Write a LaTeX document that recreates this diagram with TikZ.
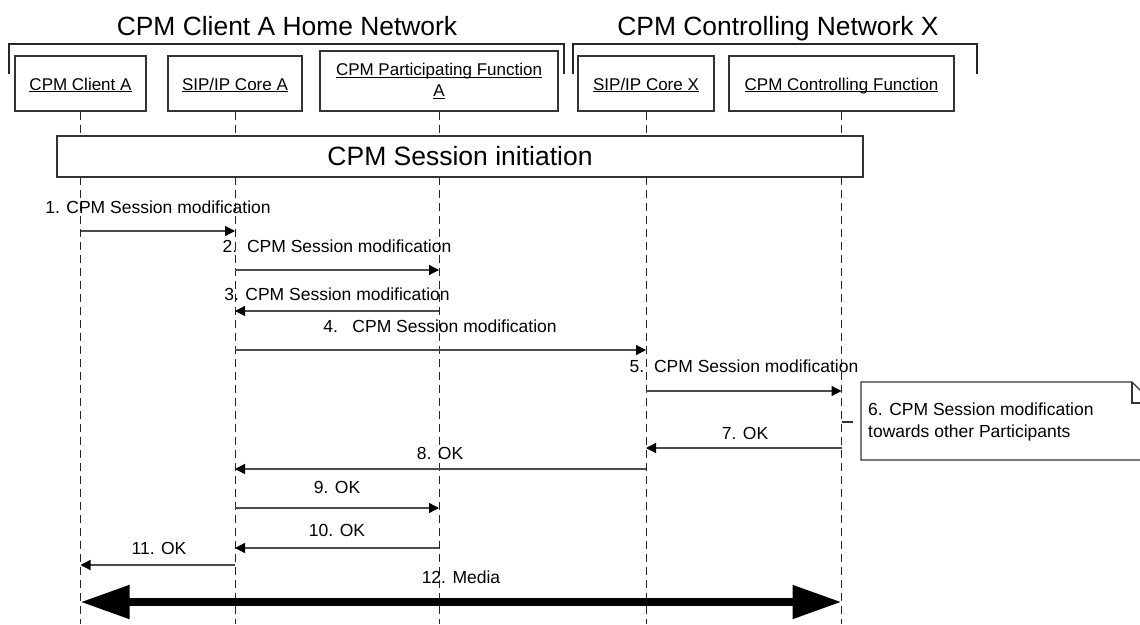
\documentclass[tikz,border=0pt]{standalone}
\usepackage{fontspec}
\setmainfont{Liberation Sans}
\usetikzlibrary{arrows.meta}
\newcommand\myul[1]{\setbox0\hbox{#1}\rlap{\rule[-2.2pt]{\wd0}{0.9pt}}\box0}
\tikzset{
  box/.style={draw=black!80, line width=1.3pt, fill=white, inner sep=0pt, font=\fontsize{17}{20}\selectfont, align=center},
  onel/.style={text height=13pt, text depth=0pt},
  lifeline/.style={draw=black!85, line width=1pt, dash pattern=on 8pt off 5pt},
  msg/.style={draw=black!70, line width=1.3pt, -{Triangle[length=10pt,width=10pt,black]}},
  lbl/.style={font=\fontsize{17.5}{21}\selectfont, inner sep=0pt},
  ttl/.style={font=\fontsize{26.4}{30}\selectfont, inner sep=0pt, anchor=base},
  brk/.style={draw=black!85, line width=1.6pt},
  media/.style={draw=black, line width=8pt, {Triangle[length=49pt,width=32pt]}-{Triangle[length=49pt,width=32pt]}}
}
\begin{document}
\begin{tikzpicture}[x=1pt,y=-1pt]
\useasboundingbox (0,0) rectangle (1140,624);
\fill[white] (0,0) rectangle (1140,624);

% titles and brackets
\node[ttl] (t1) at (287,35) {CPM Client A Home Network};
\node[ttl] (t2) at (778,35) {CPM Controlling Network X};
\draw[brk] (9,74) -- (9,44) -- (564,44) -- (564,74);
\draw[brk] (573,74) -- (573,44) -- (977,44) -- (977,74);

% participants
\node[box, onel, minimum width=131pt, minimum height=55pt] (ca) at (80.5,83.5) {\myul{CPM Client A}};
\node[box, onel, minimum width=134pt, minimum height=55pt] (sa) at (235,83.5) {\myul{SIP/IP Core A}};
\node[box, minimum width=238pt, minimum height=60pt] (pf) at (439,81) {\myul{CPM Participating Function}\\[1pt]\myul{A}};
\node[box, onel, minimum width=136pt, minimum height=55pt] (sx) at (646,83.5) {\myul{SIP/IP Core X}};
\node[box, onel, minimum width=225pt, minimum height=55pt] (cf) at (841.5,83.5) {\myul{CPM Controlling Function}};

% lifelines
\foreach \p in {ca,sa,pf,sx,cf}{
  \coordinate (\p end) at (\p.south |- 0,624);
  \draw[lifeline] (\p.south) -- (\p end);
}

% session initiation
\node[box, minimum width=806pt, minimum height=41pt, font=\fontsize{26.5}{30}\selectfont] (si) at (460,156.5) {CPM Session initiation};

% messages
\node[lbl] (l1) at (158,207) {1. CPM Session modification};
\draw[msg] (ca |- 0,231) -- (sa |- 0,231);
\node[lbl] (l2) at (337,246) {2.\ \ CPM Session modification};
\draw[msg] (sa |- 0,270) -- (pf |- 0,270);
\node[lbl] (l3) at (337,294) {3. CPM Session modification};
\draw[msg] (pf |- 0,311) -- (sa |- 0,311);
\node[lbl] (l4) at (440,326) {4.\ \ \ CPM Session modification};
\draw[msg] (sa |- 0,350) -- (sx |- 0,350);
\node[lbl] (l5) at (744,366) {5.\ \ CPM Session modification};
\draw[msg] (sx |- 0,391) -- (cf |- 0,391);

% note
\draw[draw=black!80, line width=1.3pt, fill=white] (1150,460) -- (861,460) -- (861,382) -- (1132,382) -- (1150,400);
\draw[draw=black!80, line width=1.3pt] (1132,382) -- (1132,403) -- (1150,403);
\node[lbl, anchor=west, align=left, font=\fontsize{17.5}{22}\selectfont] (note) at (868,422) {6. CPM Session modification\\towards other Participants};
\coordinate (tk) at (cf |- 0,422);
\draw[draw=black!80, line width=1.3pt] (tk) -- ++(11,0);

\node[lbl] (l7) at (745,433) {7. OK};
\draw[msg] (cf |- 0,448) -- (sx |- 0,448);
\node[lbl] (l8) at (440,453) {8. OK};
\draw[msg] (sx |- 0,469) -- (sa |- 0,469);
\node[lbl] (l9) at (337,487) {9. OK};
\draw[msg] (sa |- 0,508) -- (pf |- 0,508);
\node[lbl] (l10) at (337,530) {10. OK};
\draw[msg] (pf |- 0,548) -- (sa |- 0,548);
\node[lbl] (l11) at (159,548) {11. OK};
\draw[msg] (sa |- 0,565) -- (ca |- 0,565);
\node[lbl] (l12) at (461,577) {12. Media};
\draw[media] (ca |- 0,602) -- (cf |- 0,602);
\end{tikzpicture}
\end{document}
